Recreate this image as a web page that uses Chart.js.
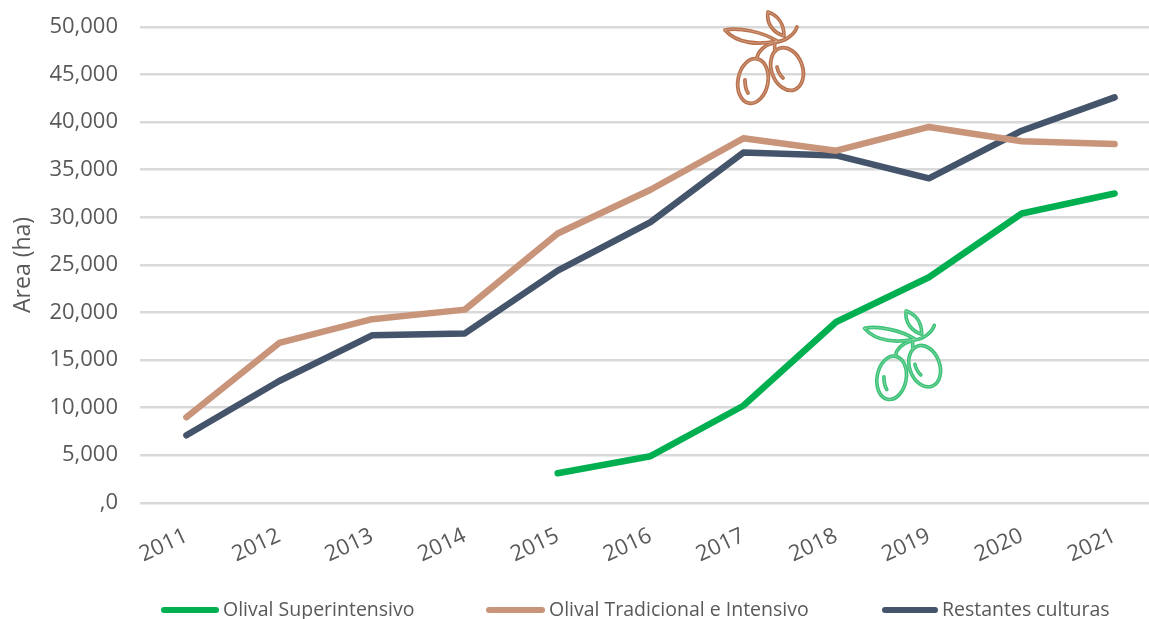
<!DOCTYPE html>
<html><head><meta charset="utf-8">
<style>html,body{margin:0;padding:0;background:#fff;overflow:hidden;width:1149px;height:619px}canvas{display:block}</style>
<script src="https://cdn.jsdelivr.net/npm/chart.js@4"></script></head>
<body><canvas id="c" width="1161" height="619"></canvas>
<script>
const categories=['2011','2012','2013','2014','2015','2016','2017','2018','2019','2020','2021'];
const superintensivo=[null,null,null,null,3100,4900,10200,19000,23700,30400,32500];
const tradicional=[9000,16800,19300,20300,28300,32900,38300,37000,39500,38000,37700];
const restantes=[7100,12800,17600,17800,24400,29500,36800,36500,34100,39100,42600];
const seriesNames=['Olival Superintensivo','Olival Tradicional e Intensivo','Restantes culturas'];
const yTicks=[0,5000,10000,15000,20000,25000,30000,35000,40000,45000,50000];
const yTickLabels=[',0','5,000','10,000','15,000','20,000','25,000','30,000','35,000','40,000','45,000','50,000'];
const yTitle='Area (ha)';
const FONT='"Open Sans"';
function olive(ctx,x,y,s,color){
  ctx.save();ctx.translate(x,y);ctx.scale(s,s);
  ctx.lineCap='round';ctx.lineJoin='round';
  const paths=[
   'M-50-12C-36-15-12-10 2-1C-16 3-38 2-50-12Z',
   'M-7-30C2-27 9-19 9-6C-1-9-9-18-7-30Z',
   'M0 0C8 0 19-6 22-15',
   'M-2 1C-10 3-17 9-18 16',
   'M0 1C-1 4 0 7 0 9',
   'M-30 38C-30 43-29 48-27 51',
   'M2 25C3 30 6 34 8 36'];
  const ell=[[-22,39,15,22.5,0.18],[12,27,15.5,22,-0.35]];
  [[3.8,color,1],[0.8,'#ffffff',0.4]].forEach(([lw,col,al])=>{
    ctx.lineWidth=lw;ctx.strokeStyle=col;ctx.globalAlpha=al;
    paths.forEach(d=>ctx.stroke(new Path2D(d)));
    ell.forEach(e=>{ctx.beginPath();ctx.ellipse(e[0],e[1],e[2],e[3],e[4],0,Math.PI*2);ctx.stroke();});
  });
  ctx.restore();
}
const extras={id:'extras',
  beforeDatasetsDraw(ch){
    const c=ch.ctx;
    olive(c,775,42,1,'#B9704A');
    olive(c,913,340,0.97,'#3CC276');
  },
  afterDraw(ch){
    const c=ch.ctx;c.save();
    c.font='19.5px '+FONT;c.fillStyle='#595959';c.textBaseline='middle';
    const items=[[161,219,223,'#00B050'],[486,545,549,'#C9957A'],[882,938,942,'#44546A']];
    items.forEach((it,i)=>{
      c.strokeStyle=it[3];c.lineWidth=6;c.lineCap='round';
      c.beginPath();c.moveTo(it[0]+3,610);c.lineTo(it[1]-3,610);c.stroke();
      c.fillText(seriesNames[i],it[2],610);
    });
    c.restore();
  }};
const mk=(label,data,color)=>({label,data,borderColor:color,backgroundColor:color,borderWidth:6.5,pointRadius:0,tension:0,fill:false,spanGaps:false,borderCapStyle:'round',borderJoinStyle:'round'});
new Chart(document.getElementById('c'),{type:'line',plugins:[extras],
 data:{labels:categories,datasets:[mk(seriesNames[0],superintensivo,'#00B050'),mk(seriesNames[1],tradicional,'#C9957A'),mk(seriesNames[2],restantes,'#44546A')]},
 options:{responsive:false,animation:false,
  layout:{padding:{top:27,bottom:39,left:10,right:0}},
  plugins:{legend:{display:false},tooltip:{enabled:false}},
  scales:{
   x:{offset:true,grid:{display:false},border:{display:false},
      ticks:{color:'#595959',font:{family:FONT,size:22},minRotation:25,maxRotation:25,padding:12}},
   y:{min:0,max:50000,afterBuildTicks(a){a.ticks=yTicks.map(v=>({value:v}));},
      afterFit(a){a.width=130;a.paddingTop=0;a.paddingBottom=0;},
      grid:{color:'#D9D9D9',lineWidth:2.5,drawTicks:false},border:{display:false},
      title:{display:true,text:yTitle,color:'#595959',font:{family:FONT,size:23},padding:0},
      ticks:{color:'#595959',font:{family:FONT,size:22},padding:22,callback(v){const i=yTicks.indexOf(v);return i<0?'':yTickLabels[i];}}}
  }}});
</script></body></html>
